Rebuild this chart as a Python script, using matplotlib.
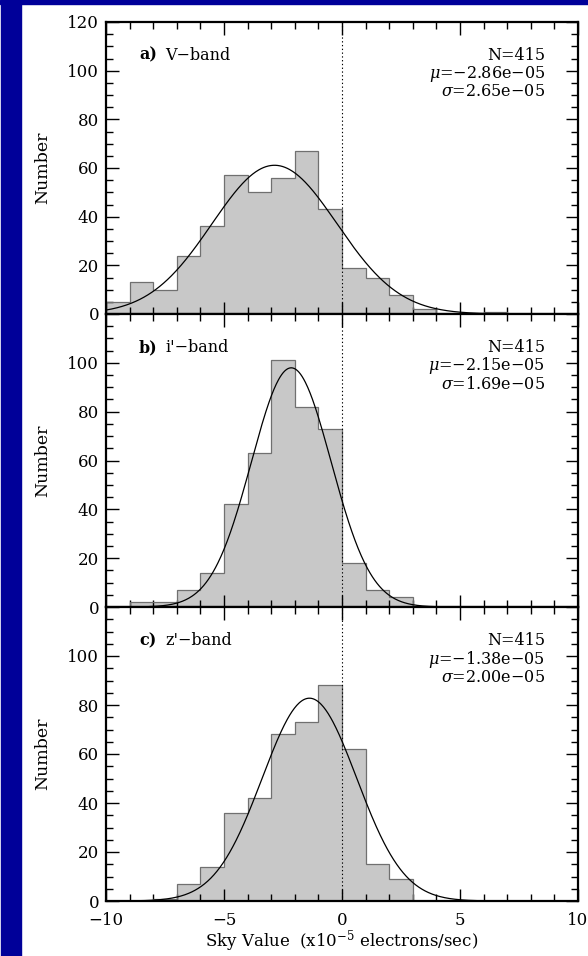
import matplotlib
matplotlib.use("Agg")
import matplotlib.pyplot as plt
import numpy as np
from matplotlib.patches import Rectangle

# histogram bin edges (units of 1e-5 electrons/sec)
edges = np.arange(-10, 11, 1)

counts_v = [5, 13, 10, 24, 36, 57, 50, 56, 67, 43, 19, 15, 8, 2, 0, 0, 1, 0, 0, 0]
counts_i = [0, 2, 2, 7, 14, 42, 63, 101, 82, 73, 18, 7, 4, 0, 0, 0, 0, 0, 0, 0]
counts_z = [0, 0, 1, 7, 14, 36, 42, 68, 73, 88, 62, 15, 9, 0, 0, 0, 0, 0, 0, 0]

labels = ["a)", "b)", "c)"]
bands = ["V\u2212band", "i'\u2212band", "z'\u2212band"]
n_tot = [415, 415, 415]
mus = [-2.86, -2.15, -1.38]
sigmas = [2.65, 1.69, 2.00]

plt.rcParams['font.family'] = ['DejaVu Serif']
plt.rcParams['mathtext.fontset'] = 'dejavuserif'
plt.rcParams['font.size'] = 11.5

fig = plt.figure(figsize=(5.88, 9.56), dpi=100)
W, H = 588.0, 956.0

# dark blue frame on the left and top
fig.patches.append(Rectangle((1 / W, 0), 20 / W, 1, transform=fig.transFigure,
                             color='#000099', zorder=0))
fig.patches.append(Rectangle((0, 1 - 4 / H), 1, 4 / H, transform=fig.transFigure,
                             color='#000099', zorder=0))

left = 106 / W
width = (578 - 106) / W
tops = [22, 314, 607]
bots = [314, 607, 901]

all_counts = [counts_v, counts_i, counts_z]
xx = np.linspace(-10, 10, 600)

for k in range(3):
    ax = fig.add_axes([left, 1 - bots[k] / H, width, (bots[k] - tops[k]) / H])
    c = np.array(all_counts[k])
    ax.stairs(c, edges, fill=True, color='#c8c8c8', zorder=1)
    ax.stairs(c, edges, color='#707070', lw=0.9, zorder=2)
    norm = c.sum() * 1.0
    yy = norm / (sigmas[k] * np.sqrt(2 * np.pi)) * np.exp(-(xx - mus[k]) ** 2 / (2 * sigmas[k] ** 2))
    ax.plot(xx, yy, color='black', lw=0.9, zorder=3)
    ax.axvline(0, color='black', lw=0.8, ls=(0, (1.2, 2.2)), zorder=4)

    ax.set_xlim(-10, 10)
    ax.set_ylim(0, 120)
    ax.set_xticks([-10, -5, 0, 5, 10])
    ax.set_xticks(np.arange(-10, 11, 1), minor=True)
    ax.set_yticks(np.arange(0, 121, 20))
    ax.set_yticks(np.arange(0, 121, 5), minor=True)
    ax.tick_params(which='both', direction='in', top=True, right=True, width=1.0,
                   colors='black', labelsize=12)
    ax.tick_params(which='major', length=9)
    ax.tick_params(which='minor', length=5)
    ax.tick_params(axis='x', pad=8)
    ax.tick_params(axis='y', pad=5)
    for s in ax.spines.values():
        s.set_linewidth(1.6)
    if k < 2:
        ax.tick_params(labelbottom=False)
    else:
        ax.set_xlabel("Sky Value  (x10$^{-5}$ electrons/sec)", fontsize=12)
        ax.xaxis.set_label_coords(0.5, -0.135)
        ax.xaxis.label.set_va('center')
    if k > 0:
        ax.set_yticklabels(["0", "20", "40", "60", "80", "100", ""])
    ax.set_ylabel("Number", fontsize=12.5)
    ax.yaxis.set_label_coords(-0.117, 0.5)

    ax.text(0.07, 0.886, labels[k], transform=ax.transAxes, fontweight='bold',
            fontsize=11.5, va='center', ha='left')
    ax.text(0.125, 0.886, bands[k], transform=ax.transAxes,
            fontsize=11.5, va='center', ha='left')
    ax.text(0.93, 0.885, "N=%d" % n_tot[k], transform=ax.transAxes,
            fontsize=11.5, va='center', ha='right')
    ax.text(0.93, 0.823, r"$\mu$=$-$%.2fe$-$05" % abs(mus[k]), transform=ax.transAxes,
            fontsize=11.5, va='center', ha='right')
    ax.text(0.93, 0.761, r"$\sigma$=%.2fe$-$05" % sigmas[k], transform=ax.transAxes,
            fontsize=11.5, va='center', ha='right')

fig.savefig("out.png", dpi=100)
